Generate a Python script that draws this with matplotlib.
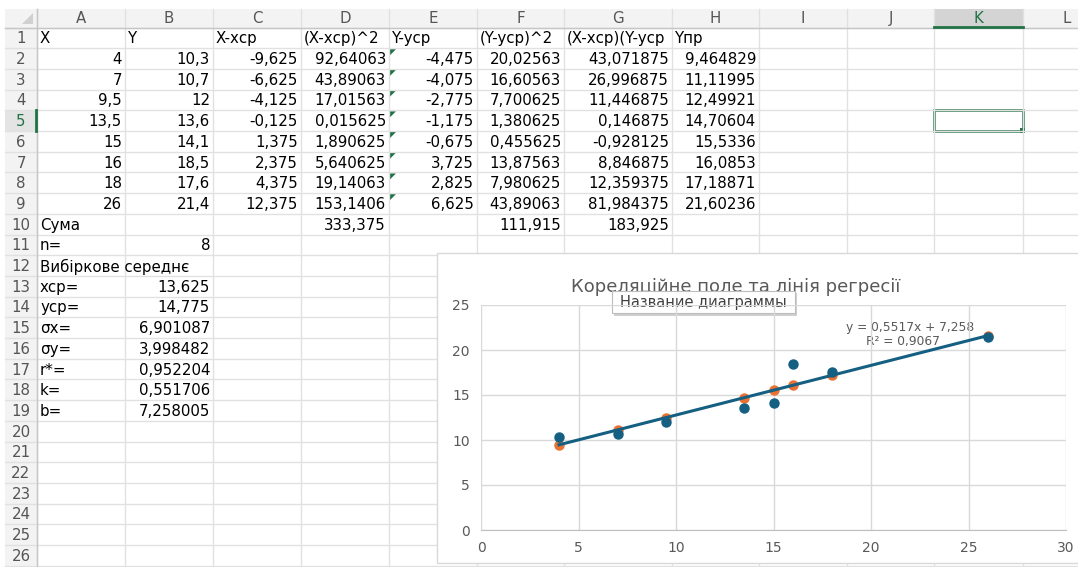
import matplotlib
matplotlib.use("Agg")
from matplotlib import pyplot as plt
from matplotlib.patches import Rectangle, Polygon

plt.rcParams['font.family'] = ['DejaVu Sans']

# Data columns of the worksheet
x_vals = [4, 7, 9.5, 13.5, 15, 16, 18, 26]
y_vals = [10.3, 10.7, 12, 13.6, 14.1, 18.5, 17.6, 21.4]
y_pred = [9.464829, 11.11995, 12.49921, 14.70604, 15.5336, 16.0853, 17.18871, 21.60236]

x_dev = ["-9,625", "-6,625", "-4,125", "-0,125", "1,375", "2,375", "4,375", "12,375"]
x_dev_sq = ["92,64063", "43,89063", "17,01563", "0,015625", "1,890625", "5,640625", "19,14063", "153,1406"]
y_dev = ["-4,475", "-4,075", "-2,775", "-1,175", "-0,675", "3,725", "2,825", "6,625"]
y_dev_sq = ["20,02563", "16,60563", "7,700625", "1,380625", "0,455625", "13,87563", "7,980625", "43,89063"]
xy_dev = ["43,071875", "26,996875", "11,446875", "0,146875", "-0,928125", "8,846875", "12,359375", "81,984375"]
sums = {"D": "333,375", "F": "111,915", "G": "183,925"}

header_row = ["X", "Y", "X-xср", "(X-xср)^2", "Y-yср", "(Y-yср)^2", "(X-xср)(Y-yср", "Yпр"]
stat_labels = ["n=", "Вибіркове середнє", "xср=", "yср=", "σx=", "σy=", "r*=", "k=", "b="]
stat_values = ["8", "", "13,625", "14,775", "6,901087", "3,998482", "0,952204", "0,551706", "7,258005"]

slope = 0.551706
intercept = 7.258005
eq_text = "y = 0,5517x + 7,258"
r2_text = "R² = 0,9067"

col_letters = list("ABCDEFGHIJKL")
col_edges = [37, 125, 213, 301, 389, 477, 564, 672, 759, 847, 934, 1023, 1111]
row_top = 27.5
row_h = 20.7
n_rows = 26
cell_fs = 10.8


def fmt(v):
    return f"{v:.7g}".replace(".", ",")


fig = plt.figure(figsize=(10.78, 5.67), dpi=100)
sheet = fig.add_axes([0, 0, 1, 1])
sheet.set_xlim(0, 1078)
sheet.set_ylim(567, 0)
sheet.axis('off')

grid_c = '#e1e1e1'
head_bg = '#f3f3f3'
head_txt = '#555555'
green = '#217346'

# header band and row number column
sheet.add_patch(Rectangle((5, 9), 1100, row_top - 9, color=head_bg, lw=0))
sheet.add_patch(Rectangle((5, 9), 32, 560, color=head_bg, lw=0))
sheet.add_patch(Polygon([[33, 24], [33, 13], [22, 24]], color='#d0d0d0', lw=0))
sheet.add_patch(Rectangle((934, 9), 89, row_top - 9, color='#d4d4d4', lw=0))
sheet.add_patch(Rectangle((5, row_top + 4 * row_h), 32, row_h, color='#e4e4e4', lw=0))

for xe in col_edges:
    sheet.plot([xe, xe], [9, 567], color=grid_c, lw=1)
for r in range(n_rows + 1):
    y = row_top + r * row_h
    sheet.plot([5, 1078], [y, y], color=grid_c, lw=1)
sheet.plot([5, 1078], [row_top, row_top], color='#c6c6c6', lw=1)
sheet.plot([37, 37], [9, 567], color='#c6c6c6', lw=1)

# column letters
for i, c in enumerate(col_letters):
    cx = (col_edges[i] + col_edges[i + 1]) / 2
    col = green if c == 'K' else head_txt
    sheet.text(cx, 18.5, c, ha='center', va='center', fontsize=cell_fs, color=col)
sheet.plot([934, 1023], [row_top - 1, row_top - 1], color=green, lw=2)

# row numbers
for r in range(1, n_rows + 1):
    cy = row_top + (r - 0.5) * row_h
    col = green if r == 5 else head_txt
    sheet.text(21, cy + 1, str(r), ha='center', va='center', fontsize=cell_fs, color=col)
sheet.plot([36, 36], [row_top + 4 * row_h, row_top + 5 * row_h], color=green, lw=2)


def cell(col, row, text, align='right'):
    i = col_letters.index(col)
    cy = row_top + (row - 0.5) * row_h + 1
    if align == 'right':
        sheet.text(col_edges[i + 1] - 3, cy, text, ha='right', va='center', fontsize=cell_fs, color='black')
    else:
        sheet.text(col_edges[i] + 3, cy, text, ha='left', va='center', fontsize=cell_fs, color='black')


for i, h in enumerate(header_row):
    cell(col_letters[i], 1, h, align='left')

for k in range(len(x_vals)):
    r = k + 2
    cell('A', r, fmt(x_vals[k]))
    cell('B', r, fmt(y_vals[k]))
    cell('C', r, x_dev[k])
    cell('D', r, x_dev_sq[k])
    cell('E', r, y_dev[k])
    cell('F', r, y_dev_sq[k])
    cell('G', r, xy_dev[k])
    cell('H', r, fmt(y_pred[k]))
    # green error markers in column E
    ex = col_edges[4]
    ey = row_top + (r - 1) * row_h
    sheet.add_patch(Polygon([[ex + 1, ey + 1], [ex + 7, ey + 1], [ex + 1, ey + 7]], color='#1e7145', lw=0))

cell('A', 10, "Сума", align='left')
for c, v in sums.items():
    cell(c, 10, v)
for k, (lab, val) in enumerate(zip(stat_labels, stat_values)):
    cell('A', 11 + k, lab, align='left')
    if val:
        cell('B', 11 + k, val)

# selected cell K5
sheet.add_patch(Rectangle((934, row_top + 4 * row_h), 89, row_h, fill=False, ec=green, lw=1.8))
sheet.add_patch(Rectangle((1020, row_top + 5 * row_h - 3), 5, 5, color=green, lw=0))

# chart frame
sheet.add_patch(Rectangle((437, 253), 700, 310, facecolor='white', edgecolor='#d9d9d9', lw=1, zorder=5))
sheet.text(736, 287, "Кореляційне поле та лінія регресії", ha='center', va='center',
           fontsize=13, color='#595959', zorder=6)

# tooltip over the title
sheet.add_patch(Rectangle((614, 293), 183, 23, facecolor='#cfcfcf', edgecolor='none', lw=0, zorder=7))
sheet.add_patch(Rectangle((612, 291), 183, 22, facecolor='white', edgecolor='#bdbdbd', lw=0.8, zorder=8))
sheet.text(703, 302, "Название диаграммы", ha='center', va='center', fontsize=10.5,
           color='#404040', zorder=9)

# scatter plot area
W, H = 1078, 567
ax = fig.add_axes([481 / W, (H - 530) / H, (1066 - 481) / W, (530 - 305) / H], zorder=6)
ax.set_facecolor('none')
ax.set_xlim(0, 30)
ax.set_ylim(0, 25)
ax.set_xticks(range(0, 31, 5))
ax.set_yticks(range(0, 26, 5))
ax.grid(True, color='#d9d9d9', lw=1)
ax.set_axisbelow(True)
for s in ['top', 'right', 'left']:
    ax.spines[s].set_visible(False)
ax.spines['bottom'].set_color('#bfbfbf')
ax.tick_params(length=0, labelsize=10, labelcolor='#595959', pad=8)

ax.plot(x_vals, y_pred, 'o', color='#e97132', ms=6.5, zorder=3)
ax.plot(x_vals, y_vals, 'o', color='#156082', ms=6.5, zorder=4)
x_line = [min(x_vals), max(x_vals)]
ax.plot(x_line, [slope * v + intercept for v in x_line], color='#156082', lw=2.2, zorder=5)

sheet.text(910, 327, eq_text, ha='center', va='center', fontsize=8.8, color='#595959', zorder=9)
sheet.text(903, 342, r2_text, ha='center', va='center', fontsize=8.8, color='#595959', zorder=9)

fig.savefig('out.png', dpi=100)
